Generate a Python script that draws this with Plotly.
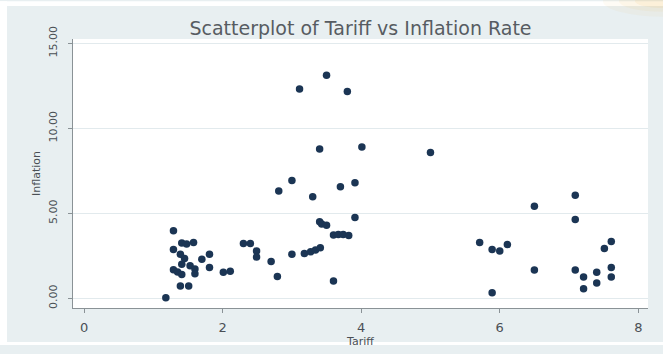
import plotly.graph_objects as go

# Tariff rate (%) and inflation rate (%) by observation
tariff = [
    1.18, 1.29, 1.29, 1.29, 1.35, 1.41, 1.48, 1.58, 1.39, 1.45, 1.41, 1.41,
    1.53, 1.60, 1.60, 1.70, 1.81, 1.81, 1.39, 1.51,
    2.01, 2.11, 2.30, 2.40, 2.49, 2.49, 2.70, 2.79, 2.81, 3.00, 3.00, 3.11,
    3.18, 3.27, 3.34, 3.41, 3.30, 3.40, 3.40, 3.43, 3.50, 3.50, 3.60,
    3.60, 3.67, 3.74, 3.82, 3.70, 3.80, 3.91, 3.91, 4.01,
    5.00, 5.71, 5.89, 6.00, 6.11, 5.89, 6.50, 6.50,
    7.09, 7.09, 7.09, 7.21, 7.21, 7.40, 7.40, 7.51, 7.61, 7.61, 7.61,
]
inflation = [
    0.04, 3.98, 2.87, 1.68, 1.55, 3.25, 3.20, 3.28, 2.59, 2.35, 2.00, 1.40,
    1.91, 1.72, 1.44, 2.30, 2.59, 1.82, 0.73, 0.73,
    1.53, 1.59, 3.22, 3.22, 2.78, 2.43, 2.17, 1.28, 6.32, 6.94, 2.59, 12.32,
    2.64, 2.74, 2.85, 2.97, 5.98, 8.78, 4.50, 4.38, 4.30, 13.12, 1.02,
    3.72, 3.75, 3.75, 3.70, 6.57, 12.17, 6.80, 4.75, 8.91,
    8.58, 3.29, 2.87, 2.78, 3.16, 0.33, 5.42, 1.67,
    6.07, 4.64, 1.67, 1.25, 0.57, 1.53, 0.90, 2.93, 3.35, 1.82, 1.25,
]

x_ticks = [0, 2, 4, 6, 8]
y_ticks = [0, 5, 10, 15]
y_tick_text = ["0.00", "5.00", "10.00", "15.00"]

W, H = 663, 354
ML, MR, MT, MB = 73, 15, 39, 38
plot_w = W - ML - MR
plot_h = H - MT - MB

outer_bg = "#e8eff1"
axis_col = "#8a9296"
text_col = "#4a4f55"
font_family = "DejaVu Sans, Liberation Sans, Arial, sans-serif"


def px_x(px):
    """Pixel column -> paper x coordinate."""
    return (px - ML) / plot_w


def px_y(py):
    """Pixel row (from top) -> paper y coordinate."""
    return (H - MB - py) / plot_h


fig = go.Figure(
    go.Scatter(
        x=tariff,
        y=inflation,
        mode="markers",
        marker=dict(size=7.5, color="#1b3554", line=dict(width=0)),
        hoverinfo="x+y",
    )
)

# thin white edge round the graph region, and a faint warm glow in the top-right corner
shapes = [
    dict(type="rect", xref="paper", yref="paper", x0=px_x(0), x1=px_x(W),
         y0=px_y(5), y1=px_y(0), fillcolor="white", line_width=0, layer="above"),
    dict(type="rect", xref="paper", yref="paper", x0=px_x(0), x1=px_x(7),
         y0=px_y(H), y1=px_y(0), fillcolor="white", line_width=0, layer="above"),
    dict(type="rect", xref="paper", yref="paper", x0=px_x(0), x1=px_x(W),
         y0=px_y(H), y1=px_y(H - 3), fillcolor="white", line_width=0, layer="above"),
]
for rx, ry, op in [(60, 16, 0.06), (44, 11, 0.08), (28, 7, 0.10)]:
    shapes.append(dict(type="circle", xref="paper", yref="paper",
                       x0=px_x(W - rx), x1=px_x(W + rx),
                       y0=px_y(ry), y1=px_y(-ry),
                       fillcolor="#f3b95a", opacity=op, line_width=0, layer="above"))

fig.update_layout(
    width=W,
    height=H,
    margin=dict(l=ML, r=MR, t=MT, b=MB),
    paper_bgcolor=outer_bg,
    plot_bgcolor="white",
    showlegend=False,
    shapes=shapes,
    font=dict(family=font_family, color=text_col),
    title=dict(
        text="Scatterplot of Tariff vs Inflation Rate",
        x=(ML + W - MR) / 2 / W,
        xanchor="center",
        y=1 - 28 / H,
        yanchor="middle",
        font=dict(size=19, color="#575c62", family=font_family),
    ),
    xaxis=dict(
        range=[-0.16, 8.14],
        tickvals=x_ticks,
        ticktext=[str(t) for t in x_ticks],
        showgrid=False,
        zeroline=False,
        showline=True,
        linecolor=axis_col,
        linewidth=1,
        ticks="outside",
        ticklen=4,
        tickcolor=axis_col,
        ticklabelstandoff=3,
        tickfont=dict(size=13, color=text_col),
        title=dict(text="Tariff", font=dict(size=11, color=text_col), standoff=0),
    ),
    yaxis=dict(
        range=[-0.57, 15.26],
        tickvals=y_ticks,
        ticktext=y_tick_text,
        tickangle=-90,
        showgrid=True,
        gridcolor="#e2eaed",
        gridwidth=1,
        zeroline=False,
        showline=True,
        linecolor=axis_col,
        linewidth=1,
        ticks="outside",
        ticklen=4,
        tickcolor=axis_col,
        ticklabelstandoff=7,
        tickfont=dict(size=11, color=text_col),
        title=dict(text="Inflation", font=dict(size=11, color=text_col), standoff=3),
    ),
)

fig.write_html("out.html")
